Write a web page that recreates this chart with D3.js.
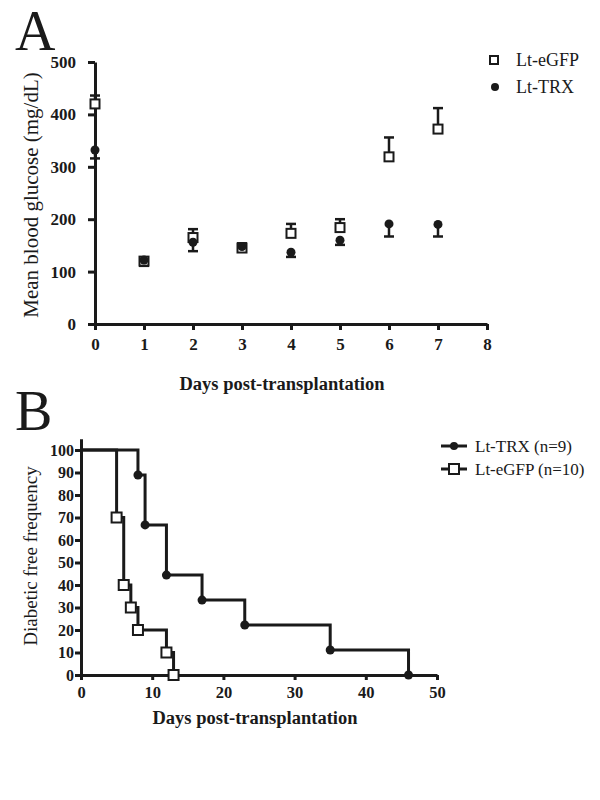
<!DOCTYPE html>
<html>
<head>
<meta charset="UTF-8">
<script src="https://d3js.org/d3.v7.min.js"></script>
<style>
  body { margin: 0; background: #fff; }
  svg text { font-family: "Liberation Serif", "Times New Roman", serif; fill: #1a1a1a; }
  .axis path, .axis line { stroke: #1a1a1a; stroke-width: 3; }
  .axis text { font-weight: bold; }
</style>
</head>
<body>
<svg id="chart" width="600" height="800"></svg>
<script>
// panel A: mean blood glucose by day
const daysA = [0, 1, 2, 3, 4, 5, 6, 7];
const gfpMean = [420, 120, 165, 145, 173, 184, 319, 372];
const gfpErr = [16, 6, 16, 9, 18, 16, 37, 40];      // drawn upward
const trxMean = [332, 122, 156, 148, 137, 160, 191, 190];
const trxErr = [16, 11, 17, 10, 9, 9, 24, 23];      // drawn downward
const ticksAx = [0, 1, 2, 3, 4, 5, 6, 7, 8];
const ticksAy = [0, 100, 200, 300, 400, 500];

// panel B: diabetes-free (Kaplan-Meier)
const trxDays = [0, 8, 9, 12, 17, 23, 35, 46];
const trxSurv = [100, 88.9, 66.7, 44.4, 33.3, 22.2, 11.1, 0];
const gfpDays = [0, 5, 6, 7, 8, 12, 13];
const gfpSurv = [100, 70, 40, 30, 20, 10, 0];
const ticksBx = [0, 10, 20, 30, 40, 50];
const ticksBy = [0, 10, 20, 30, 40, 50, 60, 70, 80, 90, 100];

const ink = "#1a1a1a";
const svg = d3.select("#chart");

// ---------- A ----------
const xA = d3.scaleLinear().domain([0, 8]).range([95, 487]);
const yA = d3.scaleLinear().domain([0, 500]).range([324, 62]);

svg.append("text").attr("x", 15).attr("y", 50)
  .attr("font-size", "56px").text("A");

svg.append("g").attr("class", "axis")
  .attr("transform", "translate(0,324)")
  .call(d3.axisBottom(xA).tickValues(ticksAx).tickSize(6).tickPadding(8).tickSizeOuter(0))
  .call(g => g.selectAll("text").attr("font-size", "17px"));

svg.append("g").attr("class", "axis")
  .attr("transform", "translate(95,0)")
  .call(d3.axisLeft(yA).tickValues(ticksAy).tickSize(7).tickPadding(12).tickSizeOuter(0))
  .call(g => g.selectAll("text").attr("font-size", "17px"));

svg.append("text")
  .attr("transform", "translate(38,195)rotate(-90)")
  .attr("text-anchor", "middle").attr("font-size", "21px")
  .text("Mean blood glucose (mg/dL)");

svg.append("text").attr("x", 282).attr("y", 390)
  .attr("text-anchor", "middle").attr("font-size", "18.5px").attr("font-weight", "bold")
  .text("Days post-transplantation");

// error bars
const eb = svg.append("g").attr("stroke", ink).attr("stroke-width", 2.5);
daysA.forEach((d, i) => {
  const x = xA(d);
  const top = yA(gfpMean[i] + gfpErr[i]);
  eb.append("line").attr("x1", x).attr("x2", x).attr("y1", yA(gfpMean[i])).attr("y2", top);
  eb.append("line").attr("x1", x - 5).attr("x2", x + 5).attr("y1", top).attr("y2", top);
  const bot = yA(trxMean[i] - trxErr[i]);
  eb.append("line").attr("x1", x).attr("x2", x).attr("y1", yA(trxMean[i])).attr("y2", bot);
  eb.append("line").attr("x1", x - 5).attr("x2", x + 5).attr("y1", bot).attr("y2", bot);
});

svg.append("g").selectAll("rect").data(daysA).join("rect")
  .attr("x", d => xA(d) - 4.5).attr("y", (d, i) => yA(gfpMean[i]) - 4.5)
  .attr("width", 9).attr("height", 9)
  .attr("fill", "#fff").attr("stroke", ink).attr("stroke-width", 2);

svg.append("g").selectAll("circle").data(daysA).join("circle")
  .attr("cx", d => xA(d)).attr("cy", (d, i) => yA(trxMean[i]))
  .attr("r", 4.5).attr("fill", ink);

// legend A
svg.append("rect").attr("x", 490).attr("y", 56).attr("width", 8).attr("height", 8)
  .attr("fill", "#fff").attr("stroke", ink).attr("stroke-width", 2);
svg.append("text").attr("x", 516).attr("y", 66).attr("font-size", "18px").text("Lt-eGFP");
svg.append("circle").attr("cx", 495).attr("cy", 87).attr("r", 4).attr("fill", ink);
svg.append("text").attr("x", 516).attr("y", 93).attr("font-size", "18px").text("Lt-TRX");

// ---------- B ----------
const xB = d3.scaleLinear().domain([0, 50]).range([81, 437]);
const yB = d3.scaleLinear().domain([0, 105]).range([675, 438.75]);

svg.append("text").attr("x", 15).attr("y", 430)
  .attr("font-size", "56px").text("B");

svg.append("g").attr("class", "axis")
  .attr("transform", "translate(0,675)")
  .call(d3.axisBottom(xB).tickValues(ticksBx).tickSize(5).tickPadding(6).tickSizeOuter(0))
  .call(g => g.selectAll("text").attr("font-size", "16.5px"));

svg.append("g").attr("class", "axis")
  .attr("transform", "translate(81,0)")
  .call(d3.axisLeft(yB).tickValues(ticksBy).tickSize(6).tickPadding(1).tickSizeOuter(0))
  .call(g => g.selectAll("text").attr("font-size", "16px"));

svg.append("text")
  .attr("transform", "translate(37,556)rotate(-90)")
  .attr("text-anchor", "middle").attr("font-size", "19px")
  .text("Diabetic free frequency");

svg.append("text").attr("x", 255).attr("y", 724)
  .attr("text-anchor", "middle").attr("font-size", "18.5px").attr("font-weight", "bold")
  .text("Days post-transplantation");

const step = d3.line().curve(d3.curveStepAfter).x(d => xB(d[0])).y(d => yB(d[1]));
const trxPts = trxDays.map((d, i) => [d, trxSurv[i]]);
const gfpPts = gfpDays.map((d, i) => [d, gfpSurv[i]]);

svg.append("path").datum(trxPts).attr("d", step)
  .attr("fill", "none").attr("stroke", ink).attr("stroke-width", 3);
svg.append("path").datum(gfpPts).attr("d", step)
  .attr("fill", "none").attr("stroke", ink).attr("stroke-width", 3);

svg.append("g").selectAll("circle").data(trxPts.slice(1)).join("circle")
  .attr("cx", d => xB(d[0])).attr("cy", d => yB(d[1])).attr("r", 4.5).attr("fill", ink);
svg.append("g").selectAll("rect").data(gfpPts.slice(1)).join("rect")
  .attr("x", d => xB(d[0]) - 5).attr("y", d => yB(d[1]) - 5)
  .attr("width", 10).attr("height", 10)
  .attr("fill", "#fff").attr("stroke", ink).attr("stroke-width", 2);

// legend B
const lg = svg.append("g");
lg.append("line").attr("x1", 441).attr("x2", 467).attr("y1", 446).attr("y2", 446)
  .attr("stroke", ink).attr("stroke-width", 3);
lg.append("circle").attr("cx", 454).attr("cy", 446).attr("r", 4).attr("fill", ink);
lg.append("text").attr("x", 475).attr("y", 452).attr("font-size", "17px").text("Lt-TRX (n=9)");
lg.append("line").attr("x1", 441).attr("x2", 467).attr("y1", 469).attr("y2", 469)
  .attr("stroke", ink).attr("stroke-width", 3);
lg.append("rect").attr("x", 449).attr("y", 464).attr("width", 10).attr("height", 10)
  .attr("fill", "#fff").attr("stroke", ink).attr("stroke-width", 2);
lg.append("text").attr("x", 475).attr("y", 475).attr("font-size", "17px").text("Lt-eGFP (n=10)");
</script>
</body>
</html>
